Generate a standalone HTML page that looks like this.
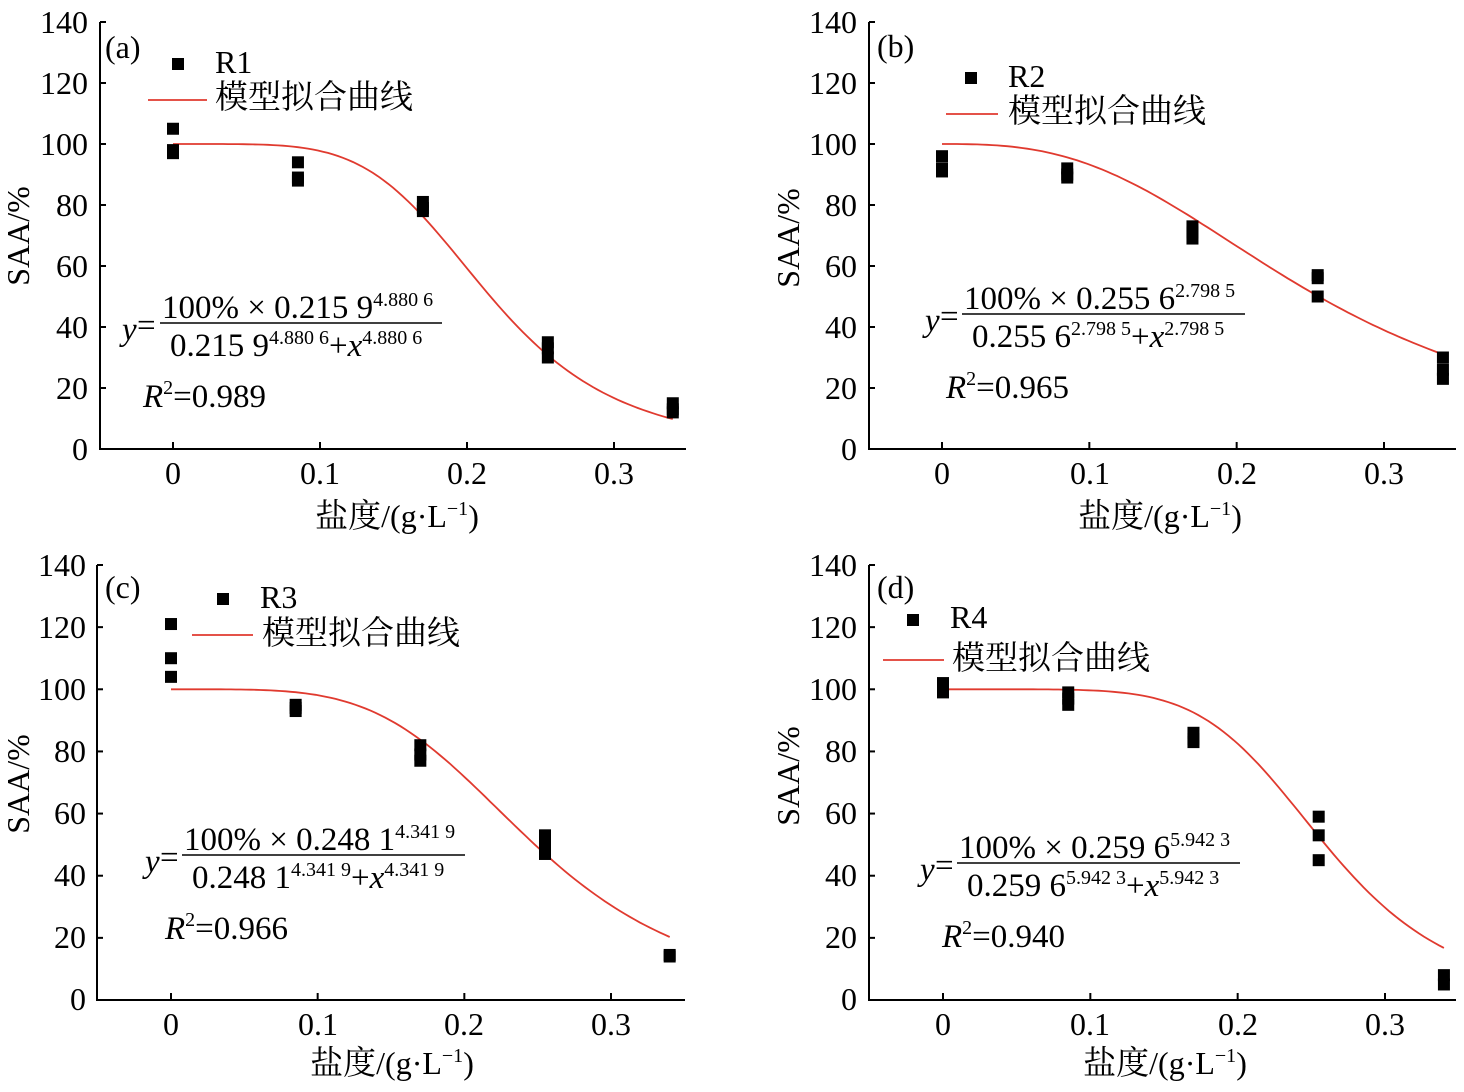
<!DOCTYPE html>
<html><head><meta charset="utf-8"><style>
html,body{margin:0;padding:0;background:#fff}
svg{display:block}
text{font-family:"Liberation Serif","Noto Serif CJK SC","Noto Sans CJK SC",serif;fill:#000}
.t{font-size:32px}
.c{font-size:33px;font-family:"Noto Serif CJK SC","Noto Sans CJK SC",serif}
.e{font-size:33px}
.sup{font-size:20px}
</style></head><body>
<svg id="s" width="1464" height="1092" viewBox="0 0 1464 1092" xmlns="http://www.w3.org/2000/svg">
<g id="plots"></g>
<g class="t">
<text x="88" y="33" text-anchor="end">140</text><text x="88" y="94" text-anchor="end">120</text><text x="88" y="155" text-anchor="end">100</text><text x="88" y="216" text-anchor="end">80</text><text x="88" y="277" text-anchor="end">60</text><text x="88" y="338" text-anchor="end">40</text><text x="88" y="399" text-anchor="end">20</text><text x="88" y="460" text-anchor="end">0</text>
<text x="173" y="484" text-anchor="middle">0</text><text x="320" y="484" text-anchor="middle">0.1</text><text x="467" y="484" text-anchor="middle">0.2</text><text x="614" y="484" text-anchor="middle">0.3</text>
<text x="857" y="33" text-anchor="end">140</text><text x="857" y="94" text-anchor="end">120</text><text x="857" y="155" text-anchor="end">100</text><text x="857" y="216" text-anchor="end">80</text><text x="857" y="277" text-anchor="end">60</text><text x="857" y="338" text-anchor="end">40</text><text x="857" y="399" text-anchor="end">20</text><text x="857" y="460" text-anchor="end">0</text>
<text x="942" y="484" text-anchor="middle">0</text><text x="1090" y="484" text-anchor="middle">0.1</text><text x="1237" y="484" text-anchor="middle">0.2</text><text x="1384" y="484" text-anchor="middle">0.3</text>
<text x="86" y="576" text-anchor="end">140</text><text x="86" y="638" text-anchor="end">120</text><text x="86" y="700" text-anchor="end">100</text><text x="86" y="762" text-anchor="end">80</text><text x="86" y="824" text-anchor="end">60</text><text x="86" y="886" text-anchor="end">40</text><text x="86" y="948" text-anchor="end">20</text><text x="86" y="1010" text-anchor="end">0</text>
<text x="171" y="1035" text-anchor="middle">0</text><text x="318" y="1035" text-anchor="middle">0.1</text><text x="464" y="1035" text-anchor="middle">0.2</text><text x="611" y="1035" text-anchor="middle">0.3</text>
<text x="857" y="576" text-anchor="end">140</text><text x="857" y="638" text-anchor="end">120</text><text x="857" y="700" text-anchor="end">100</text><text x="857" y="762" text-anchor="end">80</text><text x="857" y="824" text-anchor="end">60</text><text x="857" y="886" text-anchor="end">40</text><text x="857" y="948" text-anchor="end">20</text><text x="857" y="1010" text-anchor="end">0</text>
<text x="943" y="1035" text-anchor="middle">0</text><text x="1090" y="1035" text-anchor="middle">0.1</text><text x="1238" y="1035" text-anchor="middle">0.2</text><text x="1385" y="1035" text-anchor="middle">0.3</text>

<text x="105" y="58">(a)</text><text x="877" y="57">(b)</text><text x="105" y="598">(c)</text><text x="877" y="598">(d)</text>
<text x="215" y="73">R1</text><text x="1008" y="87">R2</text><text x="260" y="608">R3</text><text x="950" y="628">R4</text>

<text transform="translate(29,236) rotate(-90)" text-anchor="middle">SAA/%</text>
<text transform="translate(799,238) rotate(-90)" text-anchor="middle">SAA/%</text>
<text transform="translate(29,784) rotate(-90)" text-anchor="middle">SAA/%</text>
<text transform="translate(799,776) rotate(-90)" text-anchor="middle">SAA/%</text>
</g>
<g class="c">
<text x="215" y="108">模型拟合曲线</text><text x="1008" y="122">模型拟合曲线</text><text x="262" y="644">模型拟合曲线</text><text x="952" y="669">模型拟合曲线</text>
</g>
<g class="t">
<text x="397" y="527" text-anchor="middle"><tspan class="c">盐度</tspan>/(g·L<tspan class="sup" dy="-12">−1</tspan><tspan dy="12">)</tspan></text>
<text x="1160" y="527" text-anchor="middle"><tspan class="c">盐度</tspan>/(g·L<tspan class="sup" dy="-12">−1</tspan><tspan dy="12">)</tspan></text>
<text x="392" y="1074" text-anchor="middle"><tspan class="c">盐度</tspan>/(g·L<tspan class="sup" dy="-12">−1</tspan><tspan dy="12">)</tspan></text>
<text x="1165" y="1074" text-anchor="middle"><tspan class="c">盐度</tspan>/(g·L<tspan class="sup" dy="-12">−1</tspan><tspan dy="12">)</tspan></text>
</g>
<g class="e">
<text x="122" y="340" font-style="italic">y</text><text x="137" y="336">=</text>
<text x="162" y="318">100% × 0.215 9<tspan class="sup" dy="-12">4.880 6</tspan></text>
<text x="170" y="356">0.215 9<tspan class="sup" dy="-12">4.880 6</tspan><tspan dy="12">+</tspan><tspan font-style="italic">x</tspan><tspan class="sup" dy="-12">4.880 6</tspan></text>
<text x="143" y="407"><tspan font-style="italic">R</tspan><tspan class="sup" dy="-13">2</tspan><tspan dy="13">=0.989</tspan></text>

<text x="925" y="331" font-style="italic">y</text><text x="940" y="327">=</text>
<text x="964" y="309">100% × 0.255 6<tspan class="sup" dy="-12">2.798 5</tspan></text>
<text x="972" y="347">0.255 6<tspan class="sup" dy="-12">2.798 5</tspan><tspan dy="12">+</tspan><tspan font-style="italic">x</tspan><tspan class="sup" dy="-12">2.798 5</tspan></text>
<text x="946" y="398"><tspan font-style="italic">R</tspan><tspan class="sup" dy="-13">2</tspan><tspan dy="13">=0.965</tspan></text>

<text x="145" y="872" font-style="italic">y</text><text x="160" y="868">=</text>
<text x="184" y="850">100% × 0.248 1<tspan class="sup" dy="-12">4.341 9</tspan></text>
<text x="192" y="888">0.248 1<tspan class="sup" dy="-12">4.341 9</tspan><tspan dy="12">+</tspan><tspan font-style="italic">x</tspan><tspan class="sup" dy="-12">4.341 9</tspan></text>
<text x="165" y="939"><tspan font-style="italic">R</tspan><tspan class="sup" dy="-13">2</tspan><tspan dy="13">=0.966</tspan></text>

<text x="920" y="880" font-style="italic">y</text><text x="935" y="876">=</text>
<text x="959" y="858">100% × 0.259 6<tspan class="sup" dy="-12">5.942 3</tspan></text>
<text x="967" y="896">0.259 6<tspan class="sup" dy="-12">5.942 3</tspan><tspan dy="12">+</tspan><tspan font-style="italic">x</tspan><tspan class="sup" dy="-12">5.942 3</tspan></text>
<text x="942" y="947"><tspan font-style="italic">R</tspan><tspan class="sup" dy="-13">2</tspan><tspan dy="13">=0.940</tspan></text>
</g>
<g stroke="#000" stroke-width="1.5">
<line x1="160" y1="323" x2="442" y2="323"/><line x1="962" y1="314" x2="1245" y2="314"/>
<line x1="182" y1="855" x2="465" y2="855"/><line x1="957" y1="863" x2="1240" y2="863"/>
</g>
<g stroke="#e03a2f" stroke-width="1.8">
<line x1="148" y1="100" x2="207" y2="100"/><line x1="946" y1="114" x2="998" y2="114"/>
<line x1="192" y1="635" x2="253" y2="635"/><line x1="883" y1="660" x2="944" y2="660"/>
</g>
<g fill="#000">
<rect x="172" y="58" width="12" height="12"/><rect x="965" y="72" width="12" height="12"/>
<rect x="217" y="593" width="12" height="12"/><rect x="907" y="614" width="12" height="12"/>
</g>
</svg>
<script>
var P=[
 {ax:100,ay0:449,ay140:22,x0:173,x3:614,r:686,k:0.2159,n:4.8806,
  d:[[0,[105,98,97]],[0.085,[94,89,88]],[0.17,[81,79,78]],[0.255,[35,33,30]],[0.34,[15,13,12]]]},
 {ax:869,ay0:449,ay140:22,x0:942,x3:1384,r:1456,k:0.2556,n:2.7985,
  d:[[0,[96,92,91]],[0.085,[92,90,89]],[0.17,[73,71,69]],[0.255,[57,56,50]],[0.34,[30,26,23]]]},
 {ax:97,ay0:1000,ay140:565,x0:171,x3:611,r:685,k:0.2481,n:4.3419,
  d:[[0,[121,110,104]],[0.085,[95,94,93]],[0.17,[82,79,77]],[0.255,[53,50,47]],[0.34,[14.5,14]]]},
 {ax:869,ay0:1000,ay140:565,x0:943,x3:1385,r:1456,k:0.2596,n:5.9423,
  d:[[0,[102,100,99]],[0.085,[99,97,95]],[0.17,[86,84,83]],[0.255,[59,53,45]],[0.34,[8,5]]]}
];
var g=document.getElementById('plots'),h='';
P.forEach(function(p){
 function X(v){return p.x0+(p.x3-p.x0)*v/0.3}
 function Y(v){return p.ay0-(p.ay0-p.ay140)*v/140}
 h+='<path d="M'+p.ax+' '+p.ay140+' H'+(p.ax+6)+' M'+p.ax+' '+p.ay140+' V'+p.ay0+' H'+p.r+'" fill="none" stroke="#000" stroke-width="2"/>';
 for(var i=1;i<7;i++)h+='<line x1="'+p.ax+'" y1="'+Y(i*20)+'" x2="'+(p.ax+6)+'" y2="'+Y(i*20)+'" stroke="#000" stroke-width="2"/>';
 for(var j=0;j<4;j++)h+='<line x1="'+X(j*0.1)+'" y1="'+p.ay0+'" x2="'+X(j*0.1)+'" y2="'+(p.ay0-7)+'" stroke="#000" stroke-width="2"/>';
 var s='';
 for(var t=0;t<=100;t++){var x=0.34*t/100;var y=100*Math.pow(p.k,p.n)/(Math.pow(p.k,p.n)+Math.pow(x,p.n));s+=(t?'L':'M')+X(x).toFixed(1)+' '+Y(y).toFixed(1);}
 h+='<path d="'+s+'" fill="none" stroke="#e03a2f" stroke-width="1.8"/>';
 p.d.forEach(function(q){q[1].forEach(function(v){h+='<rect x="'+(X(q[0])-6)+'" y="'+(Y(v)-6)+'" width="12" height="12" fill="#000"/>';});});
});
g.innerHTML=h;
</script>
</body></html>
